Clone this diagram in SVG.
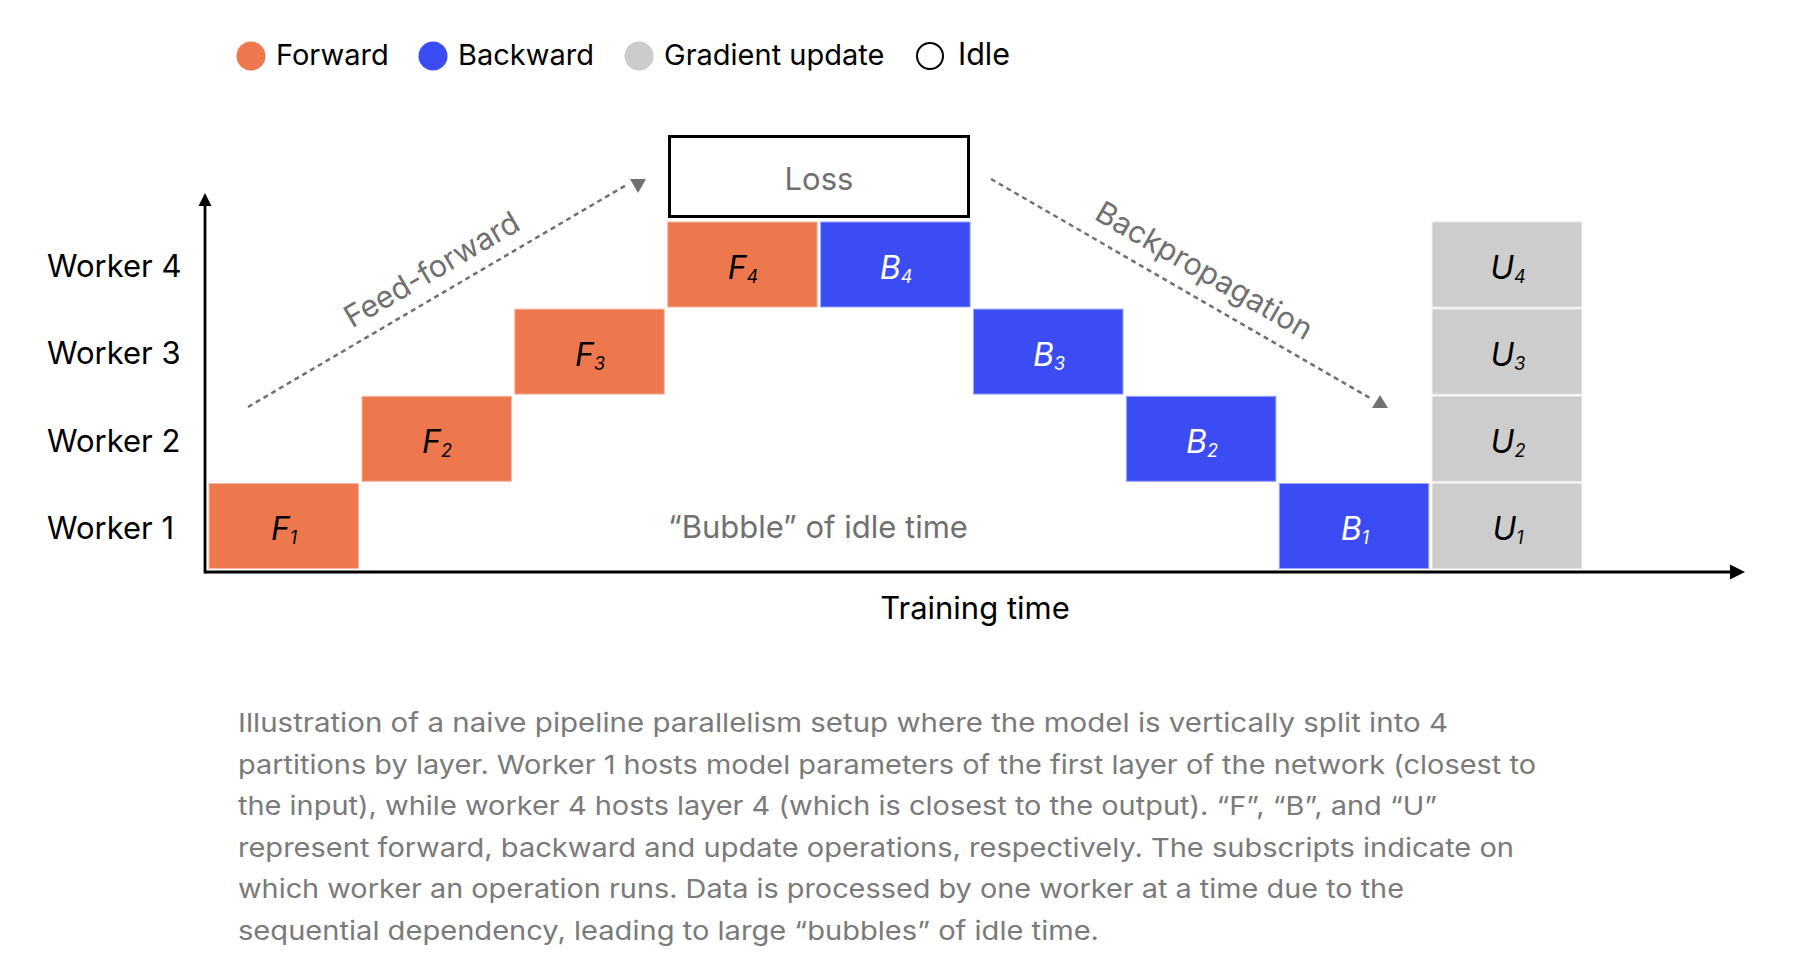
<svg xmlns="http://www.w3.org/2000/svg" width="1796" height="966" viewBox="0 0 1796 966">
<style>
text{font-family:Inter,"Liberation Sans",sans-serif}
.leg{font-size:29px;fill:#000}
.wk{font-size:31px;fill:#000}
.gr{font-size:31px;fill:#707070}
.diag{font-size:30.5px;fill:#707070}
.cap{font-size:26px;fill:#7a7a7a}
.lab{font-size:32px;font-style:italic;text-anchor:middle}
.sub{font-size:18px}
.f{fill:#EE784E;stroke:#F6B9A0;stroke-width:1}
.b{fill:#3B4CF4;stroke:#9EA6FA;stroke-width:1}
.u{fill:#CDCDCD;stroke:#E4E4E4;stroke-width:1}
.dot{stroke:#707070;stroke-width:2.5;stroke-dasharray:5 4;fill:none}
.ax{stroke:#000;stroke-width:2.8;fill:none}
</style>
<rect width="1796" height="966" fill="#fff"/>
<g id="legend">
<circle cx="251" cy="56" r="14.5" fill="#EE784E"/>
<text class="leg" x="276" y="65">Forward</text>
<circle cx="433" cy="56" r="14.5" fill="#3B4CF4"/>
<text class="leg" x="458" y="65">Backward</text>
<circle cx="639" cy="56" r="14.5" fill="#CCCCCC"/>
<text class="leg" x="664" y="65">Gradient update</text>
<circle cx="930" cy="56" r="13" fill="#fff" stroke="#000" stroke-width="2"/>
<text class="leg" x="958" y="65" style="font-size:30.5px">Idle</text>
</g>
<g id="worker-labels">
<text class="wk" x="47" y="277">Worker 4</text>
<text class="wk" x="47" y="364">Worker 3</text>
<text class="wk" x="47" y="451.5">Worker 2</text>
<text class="wk" x="47" y="539">Worker 1</text>
</g>
<g id="connectors">
<line class="ax" x1="205" y1="203" x2="205" y2="573.5"/>
<polygon points="205,193 198.5,206 211.5,206" fill="#000"/>
<line class="ax" x1="205" y1="572" x2="1733" y2="572"/>
<polygon points="1745,572 1730,564.5 1730,579.5" fill="#000"/>
<line class="dot" x1="248" y1="407" x2="628" y2="184"/>
<polygon points="630,179 646,179 638,193" fill="#707070"/>
<line class="dot" x1="991" y1="179" x2="1370" y2="398"/>
<polygon points="1380,395 1372,408 1388,408" fill="#707070"/>
</g>
<g id="loss">
<rect x="669.5" y="136.5" width="299" height="80" fill="#fff" stroke="#000" stroke-width="3"/>
<text class="gr" x="819" y="190" text-anchor="middle">Loss</text>
</g>
<g id="F1"><rect class="f" x="209" y="483.5" width="149.5" height="85"/><text class="lab" x="284" y="540">F<tspan class="sub" dy="4">1</tspan></text></g>
<g id="F2"><rect class="f" x="362" y="396.3" width="149.5" height="85"/><text class="lab" x="437" y="453">F<tspan class="sub" dy="4">2</tspan></text></g>
<g id="F3"><rect class="f" x="514.8" y="309.1" width="149.5" height="85"/><text class="lab" x="590" y="366">F<tspan class="sub" dy="4">3</tspan></text></g>
<g id="F4"><rect class="f" x="667.7" y="222" width="149.5" height="85"/><text class="lab" x="743" y="279">F<tspan class="sub" dy="4">4</tspan></text></g>
<g id="B4"><rect class="b" x="820.6" y="222" width="149.5" height="85"/><text class="lab" x="896" y="279" fill="#fff">B<tspan class="sub" dy="4">4</tspan></text></g>
<g id="B3"><rect class="b" x="973.5" y="309.1" width="149.5" height="85"/><text class="lab" x="1049" y="366" fill="#fff">B<tspan class="sub" dy="4">3</tspan></text></g>
<g id="B2"><rect class="b" x="1126.4" y="396.3" width="149.5" height="85"/><text class="lab" x="1202" y="453" fill="#fff">B<tspan class="sub" dy="4">2</tspan></text></g>
<g id="B1"><rect class="b" x="1279.3" y="483.5" width="149.5" height="85"/><text class="lab" x="1355" y="540" fill="#fff">B<tspan class="sub" dy="4">1</tspan></text></g>
<g id="U4"><rect class="u" x="1432.2" y="222" width="149.5" height="85"/><text class="lab" x="1508" y="279">U<tspan class="sub" dy="4">4</tspan></text></g>
<g id="U3"><rect class="u" x="1432.2" y="309.1" width="149.5" height="85"/><text class="lab" x="1508" y="366">U<tspan class="sub" dy="4">3</tspan></text></g>
<g id="U2"><rect class="u" x="1432.2" y="396.3" width="149.5" height="85"/><text class="lab" x="1508" y="453">U<tspan class="sub" dy="4">2</tspan></text></g>
<g id="U1"><rect class="u" x="1432.2" y="483.5" width="149.5" height="85"/><text class="lab" x="1508" y="540">U<tspan class="sub" dy="4">1</tspan></text></g>
<g id="annotations">
<text class="diag" transform="translate(432,270) rotate(-30.4)" x="0" y="10" text-anchor="middle">Feed-forward</text>
<text class="diag" transform="translate(1204,271) rotate(30)" x="0" y="10" text-anchor="middle">Backpropagation</text>
<text class="gr" x="818" y="538" text-anchor="middle">“Bubble” of idle time</text>
<text class="wk" x="975" y="619" text-anchor="middle">Training time</text>
</g>
<g id="caption">
<text class="cap" x="238" y="732" textLength="1210" lengthAdjust="spacingAndGlyphs">Illustration of a naive pipeline parallelism setup where the model is vertically split into 4</text>
<text class="cap" x="238" y="773.5" textLength="1298" lengthAdjust="spacingAndGlyphs">partitions by layer. Worker 1 hosts model parameters of the first layer of the network (closest to</text>
<text class="cap" x="238" y="815" textLength="1199" lengthAdjust="spacingAndGlyphs">the input), while worker 4 hosts layer 4 (which is closest to the output). “F”, “B”, and “U”</text>
<text class="cap" x="238" y="856.5" textLength="1276" lengthAdjust="spacingAndGlyphs">represent forward, backward and update operations, respectively. The subscripts indicate on</text>
<text class="cap" x="238" y="898" textLength="1166" lengthAdjust="spacingAndGlyphs">which worker an operation runs. Data is processed by one worker at a time due to the</text>
<text class="cap" x="238" y="939.5" textLength="861" lengthAdjust="spacingAndGlyphs">sequential dependency, leading to large “bubbles” of idle time.</text>
</g>
</svg>
